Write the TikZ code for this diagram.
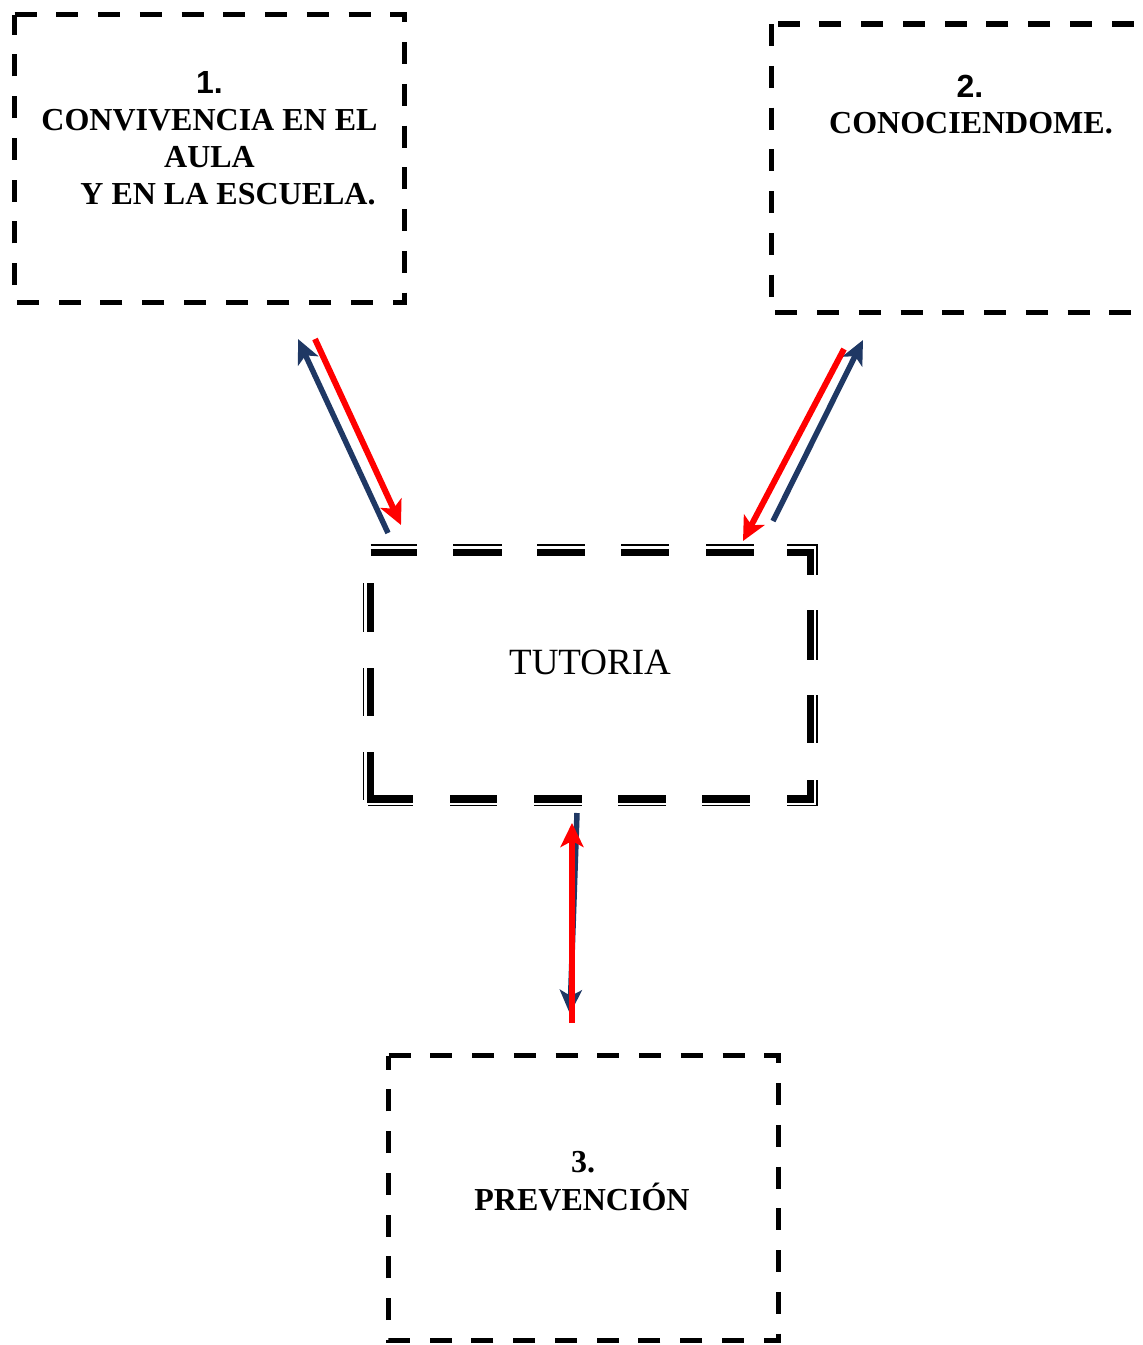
\documentclass[tikz,border=0pt]{standalone}
\usepackage{fontspec}
\setmainfont{Liberation Serif}
\newfontfamily\arialf{Liberation Sans}
\usetikzlibrary{arrows.meta}
\definecolor{navy}{RGB}{31,56,100}
\definecolor{redarrow}{RGB}{255,0,0}
\begin{document}
\begin{tikzpicture}[x=1pt,y=-1pt,
  boxnode/.style={rectangle, inner sep=0pt, outer sep=0pt, draw=none},
  boxline/.style={line width=5.5pt, dash pattern=on 22pt off 19.75pt, line cap=butt, line join=miter},
  titletext/.style={font=\fontsize{32}{37}\selectfont\bfseries, anchor=base, inner sep=0pt},
  numsans/.style={font=\fontsize{32}{37}\selectfont\arialf\bfseries, anchor=base, inner sep=0pt},
  tuttext/.style={font=\fontsize{37}{42}\selectfont, anchor=base, inner sep=0pt},
  tk/.style={line width=7.5pt, line cap=butt, line join=miter},
  tn/.style={line width=1.5pt, line cap=butt, line join=miter},
  bluearr/.style={draw=navy, line width=5.5pt, line cap=butt, -{Stealth[length=24pt,width=22pt,inset=6pt]}},
  redarr/.style={draw=redarrow, line width=6pt, line cap=butt, -{Stealth[length=24pt,width=23pt,inset=6pt]}}
]
\useasboundingbox (0,0) rectangle (1143,1345);
\fill[white] (0,0) rectangle (1143,1345);
\clip (0,0) rectangle (1143,1345);

% ---- box nodes ----
\node[boxnode, minimum width=390pt, minimum height=288pt] (b1) at (209.5,158.5) {};
\node[boxnode, minimum width=393.5pt, minimum height=288.5pt] (b2) at (968.25,168.25) {};
\node[boxnode, minimum width=390pt, minimum height=285pt] (b3) at (583.5,1198) {};
\node[boxnode, minimum width=440pt, minimum height=246.5pt] (tut) at (590.5,675.75) {};

% ---- dashed borders ----
\draw[boxline] (b1.north west) -- (b1.north east) -- (b1.south east) -- (b1.south west) -- cycle;
\draw[boxline] (b2.north west) -- (b2.south west) -- (b2.south east) -- (b2.north east) -- cycle;
\draw[boxline] (b3.north west) -- (b3.north east) -- (b3.south east) -- (b3.south west) -- cycle;

% ---- TUTORIA thick-thin dashed border ----
\foreach \a/\b in {370.5/417,453/502,537/585,621/669,706/754}{
  \draw[tk] (\a,552.5) -- (\b,552.5);
  \draw[tn] (\a,545) -- (\b,545);
}
\draw[tk] (787,552.5) -- (810.5,552.5) -- (810.5,575);
\draw[tn] (787,545) -- (817,545) -- (817,575);
\foreach \a/\b in {610/660,695/743}{
  \draw[tk] (810.5,\a) -- (810.5,\b);
  \draw[tn] (817,\a) -- (817,\b);
}
\draw[tk] (810.5,780) -- (810.5,799) -- (787,799);
\draw[tn] (817,780) -- (817,805.5) -- (787,805.5);
\foreach \a/\b in {702/750,618/666,534/582,450/497}{
  \draw[tk] (\a,799) -- (\b,799);
  \draw[tn] (\a,805.5) -- (\b,805.5);
}
\draw[tk] (370.5,752) -- (370.5,799) -- (413,799);
\draw[tn] (363.5,752) -- (363.5,800);
\draw[tn] (368,805.5) -- (413,805.5);
\foreach \a/\b in {668/716,583/632}{
  \draw[tk] (370.5,\a) -- (370.5,\b);
  \draw[tn] (363.5,\a) -- (363.5,\b);
}

% ---- texts ----
\node[numsans] (t1a) at (209.5,93) {1.};
\node[titletext] (t1b) at (209.5,130) {CONVIVENCIA EN EL};
\node[titletext] (t1c) at (209.5,167) {AULA};
\node[titletext] (t1d) at (228,204) {Y EN LA ESCUELA.};

\node[numsans] (t2a) at (970,97) {2.};
\node[titletext] (t2b) at (971,133) {CONOCIENDOME.};

\node[titletext] (t3a) at (583,1172) {3.};
\node[titletext] (t3b) at (582,1210) {PREVENCIÓN};

\node[tuttext] (t0) at (590,674) {TUTORIA};

% ---- connector end points ----
\coordinate (l1) at (388,533); \coordinate (l2) at (298,339);
\coordinate (l3) at (315,339); \coordinate (l4) at (401,525);
\coordinate (r1) at (844,349); \coordinate (r2) at (743,541);
\coordinate (r3) at (773,521); \coordinate (r4) at (863,340);
\coordinate (d1) at (577,813); \coordinate (d2) at (570,1014);
\coordinate (d3) at (572,1023); \coordinate (d4) at (572,823);

% ---- connectors ----
\draw[bluearr] (l1) -- (l2);
\draw[redarr] (l3) -- (l4);
\draw[bluearr] (r3) -- (r4);
\draw[redarr] (r1) -- (r2);
\draw[bluearr] (d1) -- (d2);
\draw[redarr] (d3) -- (d4);
\end{tikzpicture}
\end{document}
